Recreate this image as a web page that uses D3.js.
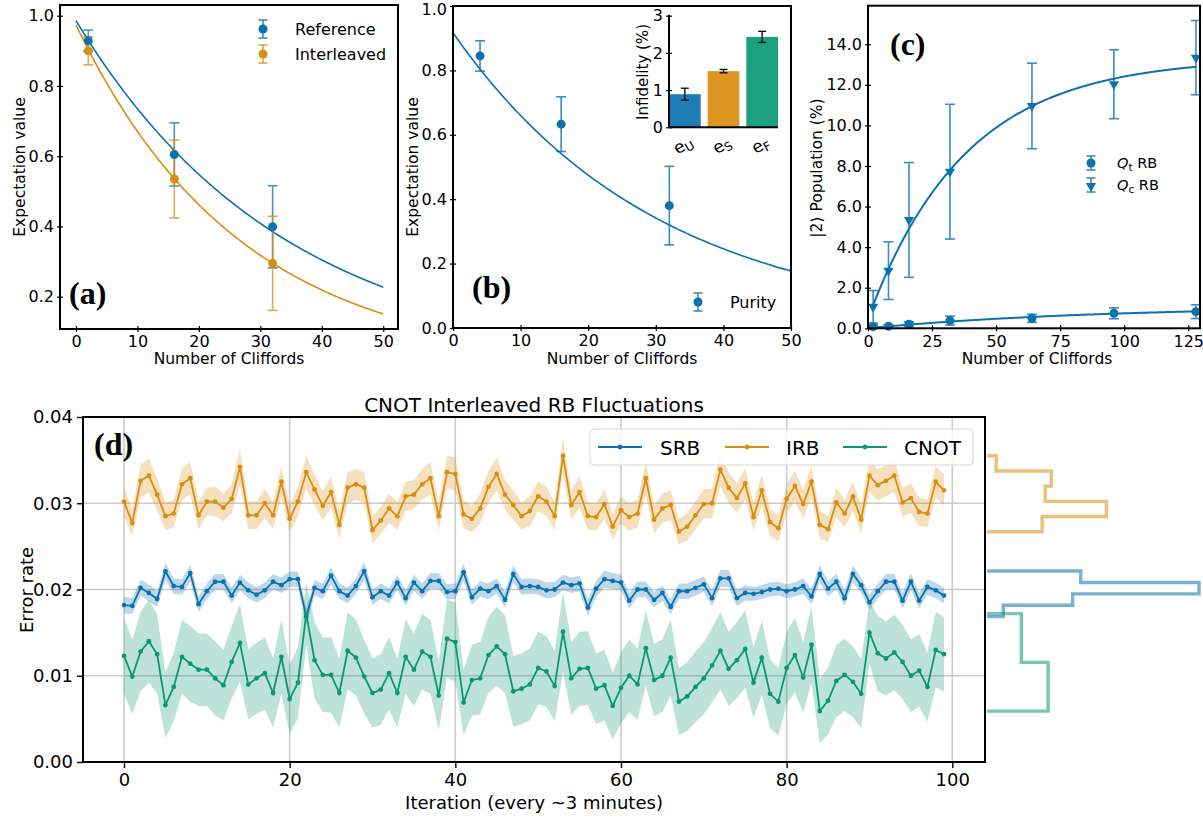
<!DOCTYPE html>
<html>
<head>
<meta charset="utf-8">
<script src="https://cdn.jsdelivr.net/npm/d3@7"></script>
<style>
  body { margin: 0; background: #fff; }
  svg { display: block; }
  text { font-family: "DejaVu Sans", sans-serif; fill: #000; }
  .plabel { font-family: "Liberation Serif", "DejaVu Serif", serif; font-weight: bold; }
</style>
</head>
<body>
<svg id="fig" width="1203" height="820"></svg>
<script>
// ---------- colours ----------
const BLUE = "#0a72ae", ORANGE = "#d98e10", GREEN = "#0a9872";

// ---------- (a) reference vs interleaved RB ----------
const cliffordsA = [2, 16, 32];
const refMean = [0.929, 0.605, 0.399];
const refErr = [0.030, 0.090, 0.117];
const intMean = [0.900, 0.535, 0.295];
const intErr = [0.040, 0.111, 0.134];
const refFit = { A: 0.986, p: 0.97106 };   // A * p^m
const intFit = { A: 0.974, p: 0.96338 };

// ---------- (b) purity RB + infidelity inset ----------
const cliffordsB = [4, 16, 32];
const purityMean = [0.845, 0.633, 0.380];
const purityErr = [0.047, 0.085, 0.122];
const purityFit = { A: 0.917, p: 0.96763 };
const infidNames = ["U", "S", "F"];
const infidVals = [0.89, 1.51, 2.43];
const infidErr = [0.16, 0.045, 0.15];

// ---------- (c) leakage population ----------
const cliffordsC = [2, 8, 16, 32, 64, 96, 128];
const qtPop = [0.08, 0.10, 0.20, 0.38, 0.49, 0.74, 0.82];
const qtErr = [0.08, 0.08, 0.12, 0.22, 0.20, 0.27, 0.34];
const qcPop = [1.06, 2.84, 5.34, 7.72, 10.96, 12.03, 13.34];
const qcErr = [0.80, 1.42, 2.83, 3.32, 2.11, 1.70, 1.83];
const qtFit = { A: 1.10, B: 1.10, tau: 90 };   // A - B exp(-m / tau)
const qcFit = { A: 13.33, B: 12.84, tau: 38 };

// ---------- (d) CNOT interleaved RB over time ----------
const srb = [0.0182,0.0181,0.0202,0.0196,0.0189,0.0221,0.0204,0.0203,0.0219,0.0183,
  0.0198,0.0209,0.0209,0.0193,0.0208,0.0199,0.0194,0.0199,0.0209,0.0205,
  0.0212,0.0212,0.01685,0.0202,0.0198,0.0216,0.0198,0.0193,0.0204,0.02214,
  0.0191,0.0198,0.0193,0.0208,0.0190,0.0208,0.0198,0.0210,0.0210,0.0197,
  0.0198,0.0220,0.0191,0.0201,0.0198,0.0204,0.0188,0.0218,0.0203,0.0204,
  0.0203,0.0199,0.0200,0.0208,0.0205,0.0207,0.0179,0.0201,0.0212,0.0210,
  0.0208,0.0187,0.0200,0.0200,0.0188,0.0196,0.0180,0.0198,0.0198,0.0202,
  0.0206,0.0190,0.0213,0.0213,0.0190,0.0196,0.0195,0.0197,0.0200,0.0201,
  0.0198,0.0200,0.0204,0.0192,0.0218,0.0201,0.0209,0.0190,0.0218,0.0205,
  0.0185,0.0198,0.0209,0.0209,0.0187,0.0209,0.0187,0.0203,0.0199,0.0193];
const irb = [0.0302,0.0277,0.0326,0.0332,0.0310,0.0285,0.0288,0.0322,0.0329,0.0286,
  0.0302,0.0302,0.0295,0.0305,0.0342,0.0286,0.0286,0.0300,0.0286,0.0325,
  0.0282,0.0302,0.0336,0.0316,0.0297,0.0313,0.0275,0.0318,0.0322,0.0318,
  0.0269,0.0280,0.0294,0.0285,0.0308,0.0310,0.0322,0.0329,0.0285,0.0336,
  0.0334,0.0287,0.0282,0.0294,0.0319,0.0334,0.0310,0.0298,0.0285,0.0291,
  0.0308,0.0302,0.0285,0.0355,0.0298,0.0313,0.0285,0.0284,0.0299,0.0273,
  0.0292,0.0284,0.0288,0.0329,0.0281,0.0294,0.0298,0.0267,0.0273,0.0286,
  0.0299,0.0300,0.0339,0.0318,0.0306,0.0323,0.0284,0.0315,0.0278,0.0271,
  0.0305,0.0320,0.0299,0.0325,0.0275,0.0270,0.0301,0.0288,0.0308,0.0281,
  0.0332,0.0321,0.0326,0.0332,0.0301,0.0306,0.0290,0.0288,0.0325,0.0315];
const cnot = [0.0123,0.0099,0.0128,0.0140,0.0125,0.0066,0.0087,0.0122,0.0114,0.0107,
  0.0107,0.0097,0.0089,0.0116,0.0138,0.0090,0.0097,0.0103,0.0080,0.0122,
  0.0073,0.0092,0.0172,0.0118,0.0101,0.0101,0.0080,0.0129,0.0121,0.0099,
  0.0080,0.0084,0.0103,0.0080,0.0122,0.0107,0.0128,0.0122,0.0077,0.0143,
  0.0139,0.0069,0.0095,0.0097,0.0124,0.0134,0.0125,0.0082,0.0085,0.0090,
  0.0109,0.0105,0.0088,0.0151,0.0097,0.0108,0.0109,0.0085,0.0089,0.0065,
  0.0086,0.0100,0.0090,0.0132,0.0095,0.0100,0.0121,0.0070,0.0076,0.0087,
  0.0097,0.0112,0.0129,0.0108,0.0118,0.0131,0.0092,0.0121,0.0079,0.0070,
  0.0109,0.0124,0.0098,0.0136,0.0059,0.0071,0.0094,0.0101,0.0093,0.0079,
  0.0150,0.0126,0.0120,0.0127,0.0116,0.0100,0.0106,0.0087,0.0130,0.0125];
const srbErr = [0.0010,0.0009,0.0009,0.0010,0.0009,0.0010,0.0009,0.0009,0.0010,0.0009,
  0.0009,0.0009,0.0009,0.0009,0.0009,0.0009,0.0009,0.0009,0.0009,0.0009,
  0.0009,0.0009,0.0010,0.0009,0.0009,0.0010,0.0009,0.0009,0.0009,0.0011,
  0.0009,0.0009,0.0009,0.0009,0.0009,0.0009,0.0009,0.0009,0.0009,0.0009,
  0.0009,0.0010,0.0009,0.0009,0.0009,0.0009,0.0009,0.0010,0.0009,0.0009,
  0.0009,0.0009,0.0009,0.0009,0.0009,0.0009,0.0010,0.0009,0.0010,0.0009,
  0.0009,0.0009,0.0009,0.0009,0.0009,0.0009,0.0009,0.0009,0.0009,0.0009,
  0.0009,0.0009,0.0010,0.0010,0.0009,0.0009,0.0008,0.0008,0.0008,0.0008,
  0.0008,0.0008,0.0009,0.0009,0.0010,0.0009,0.0009,0.0009,0.0010,0.0009,
  0.0009,0.0009,0.0009,0.0009,0.0009,0.0010,0.0009,0.0009,0.0009,0.0009];
const irbErr = [0.0017,0.0015,0.0019,0.0020,0.0018,0.0016,0.0016,0.0018,0.0019,0.0016,
  0.0016,0.0017,0.0016,0.0017,0.0020,0.0016,0.0016,0.0017,0.0016,0.0018,
  0.0016,0.0017,0.0019,0.0018,0.0017,0.0018,0.0016,0.0018,0.0018,0.0018,
  0.0016,0.0016,0.0017,0.0016,0.0017,0.0017,0.0018,0.0019,0.0016,0.0019,
  0.0019,0.0016,0.0016,0.0017,0.0018,0.0019,0.0017,0.0017,0.0016,0.0017,
  0.0017,0.0017,0.0016,0.0020,0.0017,0.0018,0.0016,0.0016,0.0017,0.0015,
  0.0016,0.0016,0.0016,0.0019,0.0016,0.0017,0.0017,0.0015,0.0016,0.0016,
  0.0017,0.0017,0.0019,0.0018,0.0017,0.0018,0.0016,0.0018,0.0016,0.0015,
  0.0017,0.0018,0.0017,0.0018,0.0016,0.0015,0.0017,0.0016,0.0017,0.0016,
  0.0019,0.0018,0.0018,0.0019,0.0017,0.0017,0.0016,0.0016,0.0018,0.0018];
const cnotErr = [0.0044,0.0043,0.0046,0.0048,0.0046,0.0038,0.0040,0.0043,0.0044,0.0042,
  0.0042,0.0043,0.0041,0.0042,0.0045,0.0041,0.0041,0.0042,0.0040,0.0043,
  0.0040,0.0041,0.0036,0.0044,0.0043,0.0044,0.0040,0.0045,0.0044,0.0043,
  0.0040,0.0041,0.0042,0.0040,0.0043,0.0042,0.0044,0.0043,0.0040,0.0045,
  0.0046,0.0038,0.0041,0.0042,0.0044,0.0046,0.0045,0.0041,0.0041,0.0042,
  0.0042,0.0041,0.0041,0.0046,0.0042,0.0043,0.0043,0.0041,0.0041,0.0039,
  0.0041,0.0042,0.0041,0.0044,0.0042,0.0042,0.0044,0.0039,0.0040,0.0041,
  0.0042,0.0043,0.0045,0.0043,0.0044,0.0045,0.0041,0.0043,0.0040,0.0039,
  0.0042,0.0043,0.0041,0.0044,0.0037,0.0039,0.0042,0.0042,0.0041,0.0040,
  0.0036,0.0044,0.0043,0.0044,0.0043,0.0042,0.0042,0.0040,0.0044,0.0043];
const histBins = { SRB: 4, IRB: 5, CNOT: 2 };

// ---------- helpers ----------
const svg = d3.select("#fig");

function box(g, x0, x1, y0, y1) {
  g.append("rect").attr("x", x0).attr("y", y0).attr("width", x1 - x0).attr("height", y1 - y0)
    .attr("fill", "none").attr("stroke", "#000").attr("stroke-width", 2);
}

// ticks that cross the spine (inside and outside)
function inoutAxis(g, axis, transform, vertical, fs) {
  const a = g.append("g").attr("transform", transform).call(axis);
  a.select(".domain").remove();
  a.selectAll(".tick line").attr("stroke", "#000").attr("stroke-width", 1.2)
    .each(function () {
      const l = d3.select(this);
      if (vertical) l.attr("x1", -3).attr("x2", 3); else l.attr("y1", -3).attr("y2", 3);
    });
  a.selectAll(".tick text").attr("font-size", fs).attr("font-family", "DejaVu Sans, sans-serif").attr("fill", "#000");
  return a;
}

function errorBars(g, xs, ys, es, x, y, color, cap, op) {
  xs.forEach((xv, i) => {
    const cx = x(xv), t = y(ys[i] + es[i]), b = y(ys[i] - es[i]);
    const eg = g.append("g").attr("stroke", color).attr("stroke-width", 1.6).attr("opacity", op);
    eg.append("line").attr("x1", cx).attr("x2", cx).attr("y1", t).attr("y2", b);
    eg.append("line").attr("x1", cx - cap / 2).attr("x2", cx + cap / 2).attr("y1", t).attr("y2", t);
    eg.append("line").attr("x1", cx - cap / 2).attr("x2", cx + cap / 2).attr("y1", b).attr("y2", b);
  });
}

function legendErr(g, cx, cy, half, cap, color, marker) {
  const eg = g.append("g").attr("stroke", color).attr("stroke-width", 1.6).attr("opacity", 0.8);
  eg.append("line").attr("x1", cx).attr("x2", cx).attr("y1", cy - half).attr("y2", cy + half);
  eg.append("line").attr("x1", cx - cap / 2).attr("x2", cx + cap / 2).attr("y1", cy - half).attr("y2", cy - half);
  eg.append("line").attr("x1", cx - cap / 2).attr("x2", cx + cap / 2).attr("y1", cy + half).attr("y2", cy + half);
  if (marker === "tri") {
    g.append("path").attr("d", d3.symbol(d3.symbolTriangle, 45)())
      .attr("transform", `translate(${cx},${cy + 1}) rotate(180)`).attr("fill", color);
  } else {
    g.append("circle").attr("cx", cx).attr("cy", cy).attr("r", 4.5).attr("fill", color);
  }
}

function panelLabel(x, y, s) {
  svg.append("text").attr("class", "plabel").attr("x", x).attr("y", y)
    .attr("font-size", 32).text(s);
}

function axisTitle(x, y, s, rotate, fs) {
  const t = svg.append("text").attr("text-anchor", "middle").attr("font-size", fs);
  if (rotate) t.attr("transform", `translate(${x},${y}) rotate(-90)`); else t.attr("x", x).attr("y", y);
  t.text(s);
  return t;
}

// ================= (a) =================
{
  const L = 60, R = 398, T = 5, B = 329;
  const x = d3.scaleLinear().domain([-2.6, 52.4]).range([L, R]);
  const y = d3.scaleLinear().domain([0.108, 1.0305]).range([B, T]);
  const g = svg.append("g");
  const fitLine = d3.line().x(d => x(d[0])).y(d => y(d[1]));
  const ms = d3.range(0, 50.01, 0.25);
  g.append("path").datum(ms.map(m => [m, refFit.A * Math.pow(refFit.p, m)]))
    .attr("d", fitLine).attr("fill", "none").attr("stroke", BLUE).attr("stroke-width", 1.6);
  g.append("path").datum(ms.map(m => [m, intFit.A * Math.pow(intFit.p, m)]))
    .attr("d", fitLine).attr("fill", "none").attr("stroke", ORANGE).attr("stroke-width", 1.6);
  errorBars(g, cliffordsA, refMean, refErr, x, y, BLUE, 10, 0.75);
  errorBars(g, cliffordsA, intMean, intErr, x, y, ORANGE, 10, 0.75);
  g.selectAll(".ref").data(cliffordsA).join("circle").attr("cx", d => x(d))
    .attr("cy", (d, i) => y(refMean[i])).attr("r", 4.5).attr("fill", BLUE);
  g.selectAll(".int").data(cliffordsA).join("circle").attr("cx", d => x(d))
    .attr("cy", (d, i) => y(intMean[i])).attr("r", 4.5).attr("fill", ORANGE);
  box(g, L, R, T, B);
  inoutAxis(g, d3.axisBottom(x).tickValues([0, 10, 20, 30, 40, 50]).tickSize(3).tickPadding(4), `translate(0,${B})`, false, 16);
  inoutAxis(g, d3.axisLeft(y).tickValues([0.2, 0.4, 0.6, 0.8, 1.0]).tickFormat(d3.format(".1f")).tickSize(3).tickPadding(3), `translate(${L},0)`, true, 16);
  // legend
  legendErr(g, 263, 29, 9, 9, BLUE);
  legendErr(g, 263, 54, 9, 9, ORANGE);
  g.append("text").attr("x", 295).attr("y", 35).attr("font-size", 16).text("Reference");
  g.append("text").attr("x", 295).attr("y", 60).attr("font-size", 16).text("Interleaved");
  axisTitle(25, 167, "Expectation value", true, 15.5);
  axisTitle(229, 364, "Number of Cliffords", false, 15.5);
  panelLabel(69, 304, "(a)");
}

// ================= (b) =================
{
  const L = 453, R = 791, T = 6, B = 328;
  const x = d3.scaleLinear().domain([0, 50]).range([L, R]);
  const y = d3.scaleLinear().domain([0, 1]).range([B, T]);
  const g = svg.append("g");
  const ms = d3.range(0, 50.01, 0.25);
  g.append("path").datum(ms.map(m => [m, purityFit.A * Math.pow(purityFit.p, m)]))
    .attr("d", d3.line().x(d => x(d[0])).y(d => y(d[1])))
    .attr("fill", "none").attr("stroke", BLUE).attr("stroke-width", 1.6);
  errorBars(g, cliffordsB, purityMean, purityErr, x, y, BLUE, 10, 0.8);
  g.selectAll(".pur").data(cliffordsB).join("circle").attr("cx", d => x(d))
    .attr("cy", (d, i) => y(purityMean[i])).attr("r", 4.5).attr("fill", BLUE);
  box(g, L, R, T, B);
  inoutAxis(g, d3.axisBottom(x).tickValues([0, 10, 20, 30, 40, 50]).tickSize(3).tickPadding(4), `translate(0,${B})`, false, 16);
  const ya = inoutAxis(g, d3.axisLeft(y).tickValues([0, 0.2, 0.4, 0.6, 0.8, 1.0]).tickFormat(d3.format(".1f")).tickSize(3).tickPadding(3), `translate(${L},0)`, true, 16);
  ya.selectAll(".tick text").filter(d => d === 1).attr("dy", "0.5em");
  legendErr(g, 698, 302, 9, 9, BLUE);
  g.append("text").attr("x", 730).attr("y", 308).attr("font-size", 16).text("Purity");
  axisTitle(418, 167, "Expectation value", true, 15.5);
  axisTitle(622, 364, "Number of Cliffords", false, 15.5);
  panelLabel(472, 298, "(b)");

  // inset: infidelities
  const iL = 669, iR = 778, iT = 15.7, iB = 127.3;
  const xi = d3.scaleBand().domain(infidNames).range([iL, iR]).paddingInner(0.18).paddingOuter(0);
  const yi = d3.scaleLinear().domain([0, 3]).range([iB, iT]);
  const cols = [BLUE, ORANGE, GREEN];
  const ig = svg.append("g");
  ig.selectAll("rect").data(infidNames).join("rect")
    .attr("x", d => xi(d)).attr("width", xi.bandwidth())
    .attr("y", (d, i) => yi(infidVals[i])).attr("height", (d, i) => iB - yi(infidVals[i]))
    .attr("fill", (d, i) => cols[i]).attr("opacity", 0.92);
  infidNames.forEach((n, i) => {
    const cx = xi(n) + xi.bandwidth() / 2, t = yi(infidVals[i] + infidErr[i]), b = yi(infidVals[i] - infidErr[i]);
    const eg = ig.append("g").attr("stroke", "#111").attr("stroke-width", 1.4);
    eg.append("line").attr("x1", cx).attr("x2", cx).attr("y1", t).attr("y2", b);
    eg.append("line").attr("x1", cx - 4).attr("x2", cx + 4).attr("y1", t).attr("y2", t);
    eg.append("line").attr("x1", cx - 4).attr("x2", cx + 4).attr("y1", b).attr("y2", b);
    const lab = ig.append("text").attr("text-anchor", "middle").attr("font-size", 17)
      .attr("transform", `translate(${cx + 1},${150}) rotate(-30)`);
    lab.append("tspan").text("e");
    lab.append("tspan").attr("font-size", 12).attr("dy", 3).text(n);
  });
  ig.append("line").attr("x1", iL).attr("x2", iL).attr("y1", iT - 1).attr("y2", iB).attr("stroke", "#000").attr("stroke-width", 2);
  ig.append("line").attr("x1", iL).attr("x2", iR).attr("y1", iB).attr("y2", iB).attr("stroke", "#000").attr("stroke-width", 2);
  inoutAxis(ig, d3.axisLeft(yi).tickValues([0, 1, 2, 3]).tickFormat(d3.format("d")).tickSize(3).tickPadding(3), `translate(${iL},0)`, true, 16);
  axisTitle(648, 72, "Infidelity (%)", true, 15);
}

// ================= (c) =================
{
  const L = 868, R = 1200, T = 5.7, B = 328.3;
  const x = d3.scaleLinear().domain([0, 129.6]).range([L, R]);
  const y = d3.scaleLinear().domain([0, 15.9]).range([B, T]);
  const g = svg.append("g");
  const ms = d3.range(2, 128.01, 0.5);
  const fl = d3.line().x(d => x(d[0])).y(d => y(d[1]));
  g.append("path").datum(ms.map(m => [m, qcFit.A - qcFit.B * Math.exp(-m / qcFit.tau)]))
    .attr("d", fl).attr("fill", "none").attr("stroke", BLUE).attr("stroke-width", 2);
  g.append("path").datum(ms.map(m => [m, qtFit.A - qtFit.B * Math.exp(-m / qtFit.tau)]))
    .attr("d", fl).attr("fill", "none").attr("stroke", BLUE).attr("stroke-width", 2);
  errorBars(g, cliffordsC, qcPop, qcErr, x, y, BLUE, 10, 0.8);
  errorBars(g, cliffordsC, qtPop, qtErr, x, y, BLUE, 10, 0.8);
  g.selectAll(".qc").data(cliffordsC).join("path")
    .attr("d", d3.symbol(d3.symbolTriangle, 45)())
    .attr("transform", (d, i) => `translate(${x(d)},${y(qcPop[i])}) rotate(180)`).attr("fill", BLUE);
  g.selectAll(".qt").data(cliffordsC).join("circle").attr("cx", d => x(d))
    .attr("cy", (d, i) => y(qtPop[i])).attr("r", 4.5).attr("fill", BLUE);
  box(g, L, R, T, B);
  inoutAxis(g, d3.axisBottom(x).tickValues([0, 25, 50, 75, 100, 125]).tickSize(3).tickPadding(4), `translate(0,${B})`, false, 16);
  inoutAxis(g, d3.axisLeft(y).tickValues([0, 2, 4, 6, 8, 10, 12, 14]).tickFormat(d3.format(".1f")).tickSize(3).tickPadding(3), `translate(${L},0)`, true, 16);
  legendErr(g, 1091, 163, 7, 9, BLUE, "dot");
  legendErr(g, 1091, 185, 7, 9, BLUE, "tri");
  [["t", 168], ["c", 190]].forEach(([s, yy]) => {
    const t = g.append("text").attr("x", 1117).attr("y", yy).attr("font-size", 14.5);
    t.append("tspan").attr("font-style", "italic").text("Q");
    t.append("tspan").attr("font-size", 10.5).attr("dy", 3).text(s);
    t.append("tspan").attr("dy", -3).text(" RB");
  });
  axisTitle(822, 168, "|2\u27E9 Population (%)", true, 15.5);
  axisTitle(1037, 364, "Number of Cliffords", false, 15.5);
  panelLabel(890, 55, "(c)");
}

// ================= (d) =================
{
  const L = 83, R = 985, T = 417, B = 762;
  const x = d3.scaleLinear().domain([-4.95, 103.95]).range([L, R]);
  const y = d3.scaleLinear().domain([0, 0.04]).range([B, T]);
  const g = svg.append("g");
  const iters = d3.range(srb.length);
  // grid
  [0, 20, 40, 60, 80, 100].forEach(v => g.append("line").attr("x1", x(v)).attr("x2", x(v))
    .attr("y1", T).attr("y2", B).attr("stroke", "#cccccc").attr("stroke-width", 1.6));
  [0.01, 0.02, 0.03].forEach(v => g.append("line").attr("x1", L).attr("x2", R)
    .attr("y1", y(v)).attr("y2", y(v)).attr("stroke", "#cccccc").attr("stroke-width", 1.6));

  const series = [
    { name: "SRB", vals: srb, err: srbErr, color: BLUE },
    { name: "IRB", vals: irb, err: irbErr, color: ORANGE },
    { name: "CNOT", vals: cnot, err: cnotErr, color: GREEN }
  ];
  const area = d3.area().x(d => x(d.i)).y0(d => y(d.v - d.e)).y1(d => y(d.v + d.e));
  const line = d3.line().x(d => x(d.i)).y(d => y(d.v));
  series.forEach(s => {
    const pts = iters.map(i => ({ i, v: s.vals[i], e: s.err[i] }));
    g.append("path").datum(pts).attr("d", area).attr("fill", s.color).attr("opacity", 0.27);
  });
  series.forEach(s => {
    const pts = iters.map(i => ({ i, v: s.vals[i] }));
    g.append("path").datum(pts).attr("d", line).attr("fill", "none").attr("stroke", s.color).attr("stroke-width", 1.8);
    g.append("g").selectAll("circle").data(pts).join("circle")
      .attr("cx", d => x(d.i)).attr("cy", d => y(d.v)).attr("r", 2.4).attr("fill", s.color);
  });
  box(g, L, R, T, B);

  const xa = g.append("g").attr("transform", `translate(0,${B})`)
    .call(d3.axisBottom(x).tickValues([0, 20, 40, 60, 80, 100]).tickSize(6).tickPadding(5));
  const ya = g.append("g").attr("transform", `translate(${L},0)`)
    .call(d3.axisLeft(y).tickValues([0, 0.01, 0.02, 0.03, 0.04]).tickFormat(d3.format(".2f")).tickSize(6).tickPadding(4));
  [xa, ya].forEach(a => {
    a.select(".domain").remove();
    a.selectAll(".tick line").attr("stroke", "#000").attr("stroke-width", 1.4);
    a.selectAll(".tick text").attr("font-size", 18).attr("font-family", "DejaVu Sans, sans-serif").attr("fill", "#000");
  });

  // legend
  const lg = svg.append("g");
  lg.append("rect").attr("x", 590).attr("y", 429).attr("width", 383).attr("height", 36).attr("rx", 4)
    .attr("fill", "#fff").attr("fill-opacity", 0.8).attr("stroke", "#d6d6d6").attr("stroke-width", 1);
  const items = [[598, 660], [725, 786], [843, 904]];
  series.forEach((s, k) => {
    const [lx, tx] = items[k];
    lg.append("line").attr("x1", lx).attr("x2", lx + 44).attr("y1", 447).attr("y2", 447)
      .attr("stroke", s.color).attr("stroke-width", 1.8);
    lg.append("circle").attr("cx", lx + 22).attr("cy", 447).attr("r", 2.4).attr("fill", s.color);
    lg.append("text").attr("x", tx).attr("y", 454.5).attr("font-size", 20).text(s.name);
  });

  svg.append("text").attr("x", 534).attr("y", 412).attr("text-anchor", "middle").attr("font-size", 20)
    .text("CNOT Interleaved RB Fluctuations");
  axisTitle(534, 809, "Iteration (every ~3 minutes)", false, 18);
  axisTitle(33, 590, "Error rate", true, 18);
  panelLabel(94, 455, "(d)");

  // marginal step histograms (density) of each series
  const hists = series.map(s => {
    const [lo, hi] = d3.extent(s.vals);
    const n = histBins[s.name];
    const w = (hi - lo) / n;
    const edges = d3.range(1, n).map(k => lo + k * w);
    const bins = d3.bin().domain([lo, hi]).thresholds(edges)(s.vals);
    return { s, bins, dens: bins.map(b => b.length / (s.vals.length * (b.x1 - b.x0))) };
  });
  const maxD = d3.max(hists, h => d3.max(h.dens));
  const xh = d3.scaleLinear().domain([0, maxD]).range([987, 1199]);
  const hg = svg.append("g");
  hists.forEach(h => {
    const p = d3.path();
    p.moveTo(xh(0), y(h.bins[0].x0));
    h.bins.forEach((b, k) => {
      p.lineTo(xh(h.dens[k]), y(b.x0));
      p.lineTo(xh(h.dens[k]), y(b.x1));
    });
    p.lineTo(xh(0), y(h.bins[h.bins.length - 1].x1));
    hg.append("path").attr("d", p.toString()).attr("fill", "none")
      .attr("stroke", h.s.color).attr("stroke-opacity", 0.55).attr("stroke-width", 3.4);
  });
}
</script>
</body>
</html>
